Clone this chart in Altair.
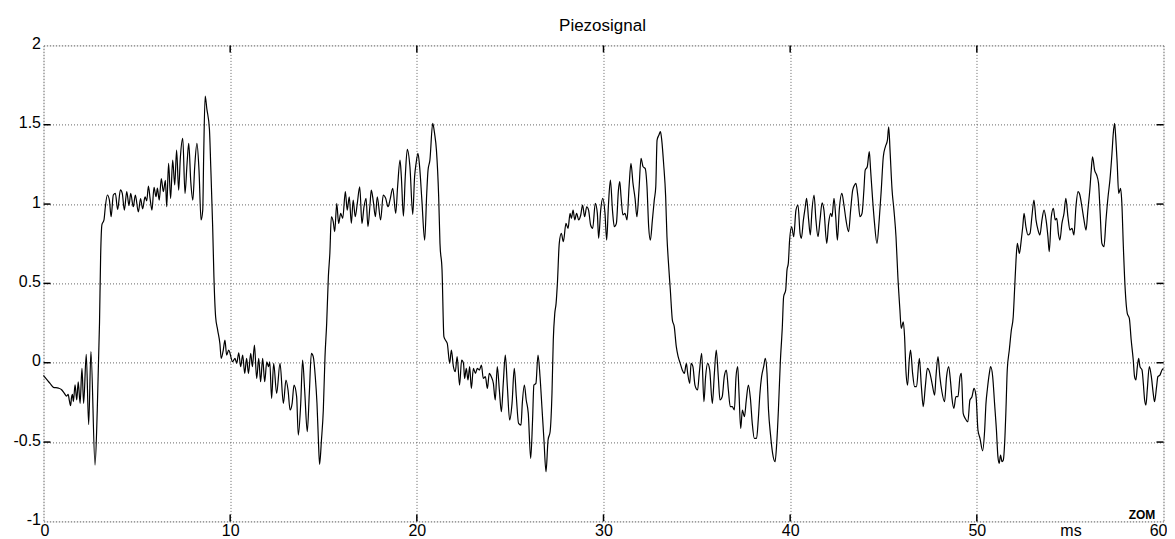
import altair as alt
import pandas as pd

# ---- data (time in ms, piezo signal) ----
t_ms = [
    0.0, 0.35, 0.53, 0.8, 0.97, 1.1, 1.24, 1.32, 1.38, 1.45, 1.5, 1.55, 1.6, 1.69, 1.78, 1.86, 1.96,
    2.06, 2.15, 2.29, 2.42, 2.54, 2.76, 2.88, 3.0, 3.06, 3.13, 3.24, 3.31, 3.42, 3.53, 3.62, 3.74,
    3.85, 3.97, 4.12, 4.22, 4.33, 4.46, 4.58, 4.67, 4.81, 4.92, 5.08, 5.2, 5.31, 5.44, 5.53, 5.62,
    5.71, 5.81, 5.92, 6.03, 6.1, 6.2, 6.31, 6.42, 6.53, 6.6, 6.7, 6.81, 6.92, 7.03, 7.13, 7.24,
    7.33, 7.46, 7.58, 7.69, 7.78, 7.89, 8.0, 8.1, 8.22, 8.33, 8.44, 8.53, 8.58, 8.66, 8.75, 8.89,
    8.96, 9.06, 9.13, 9.22, 9.33, 9.45, 9.52, 9.63, 9.72, 9.81, 9.92,
    10.13, 10.26, 10.35, 10.46, 10.56, 10.67, 10.78, 10.88, 10.98, 11.1, 11.19, 11.3, 11.42, 11.53,
    11.63, 11.74, 11.85, 11.96, 12.06, 12.12, 12.22, 12.33, 12.49, 12.67, 12.85, 12.99, 13.1, 13.21,
    13.32, 13.42, 13.56, 13.65, 13.78, 13.88, 13.99, 14.13, 14.24, 14.35, 14.45, 14.56, 14.65, 14.72,
    14.79, 14.89, 14.99, 15.08, 15.17, 15.26, 15.34, 15.42, 15.52, 15.6, 15.71, 15.81, 15.92, 16.03,
    16.17, 16.27, 16.38, 16.49, 16.59, 16.7, 16.81, 16.94, 17.06, 17.17, 17.28, 17.38, 17.49, 17.56,
    17.67, 17.78, 17.88, 18.06, 18.2, 18.33, 18.46, 18.56, 18.71, 18.87, 18.97, 19.1, 19.17, 19.28,
    19.38, 19.49, 19.63, 19.78, 19.88, 19.96,
    20.06, 20.15, 20.27, 20.42, 20.53, 20.6, 20.7, 20.85, 20.95, 21.05, 21.17, 21.24, 21.35, 21.45,
    21.53, 21.63, 21.76, 21.85, 21.96, 22.06, 22.16, 22.29, 22.4, 22.5, 22.56, 22.65, 22.74, 22.83,
    22.92, 23.03, 23.14, 23.24, 23.35, 23.46, 23.56, 23.67, 23.78, 23.88, 23.99, 24.1, 24.2, 24.31,
    24.42, 24.53, 24.63, 24.74, 24.85, 24.97, 25.1, 25.22, 25.33, 25.45, 25.58, 25.65, 25.76, 25.86,
    25.97, 26.1, 26.2, 26.27, 26.38, 26.49, 26.6, 26.7, 26.81, 26.92, 27.03, 27.14, 27.24, 27.31,
    27.39, 27.46, 27.53, 27.63, 27.74, 27.85, 27.99, 28.1, 28.21, 28.28, 28.37, 28.46, 28.56, 28.67,
    28.78, 28.88, 28.99, 29.1, 29.2, 29.31, 29.42, 29.56, 29.67, 29.74, 29.85, 29.96,
    30.08, 30.17, 30.26, 30.37, 30.48, 30.58, 30.69, 30.8, 30.87, 30.94, 31.04, 31.15, 31.26, 31.37,
    31.47, 31.58, 31.69, 31.79, 31.9, 32.01, 32.12, 32.23, 32.33, 32.42, 32.51, 32.62, 32.72, 32.8,
    32.87, 32.97, 33.05, 33.12, 33.22, 33.33, 33.4, 33.47, 33.58, 33.69, 33.79, 33.9, 34.0, 34.11,
    34.22, 34.33, 34.44, 34.51, 34.62, 34.69, 34.79, 34.9, 35.04, 35.13, 35.26, 35.38, 35.47, 35.58,
    35.69, 35.83, 35.94, 36.04, 36.15, 36.24, 36.36, 36.47, 36.58, 36.69, 36.79, 36.9, 37.01, 37.1,
    37.19, 37.26, 37.35, 37.44, 37.55, 37.65, 37.76, 37.87, 37.97, 38.08, 38.2, 38.29, 38.38, 38.47,
    38.58, 38.67, 38.76, 38.84, 38.95, 39.06, 39.19, 39.28, 39.37, 39.47, 39.58, 39.65, 39.76, 39.83,
    39.9, 39.97,
    40.08, 40.19, 40.31, 40.42, 40.53, 40.6, 40.71, 40.81, 40.88, 40.99, 41.08, 41.17, 41.28, 41.38,
    41.49, 41.6, 41.71, 41.81, 41.96, 42.06, 42.17, 42.24, 42.35, 42.44, 42.53, 42.63, 42.77, 42.88,
    42.99, 43.13, 43.24, 43.35, 43.45, 43.52, 43.63, 43.74, 43.85, 43.95, 44.02, 44.13, 44.24, 44.31,
    44.42, 44.52, 44.65, 44.77, 44.88, 44.99, 45.1, 45.21, 45.28, 45.35, 45.46, 45.56, 45.67, 45.77,
    45.88, 45.95, 46.06, 46.13, 46.2, 46.29, 46.38, 46.45, 46.56, 46.67, 46.77, 46.92, 47.03, 47.13,
    47.24, 47.35, 47.49, 47.6, 47.74, 47.81, 47.92, 48.02, 48.13, 48.27, 48.38, 48.49, 48.6, 48.67,
    48.77, 48.88, 48.99, 49.1, 49.17, 49.27, 49.38, 49.52, 49.63, 49.74, 49.85, 49.96,
    50.06, 50.17, 50.31, 50.42, 50.49, 50.56, 50.67, 50.74, 50.85, 50.95, 51.05, 51.13, 51.2, 51.27,
    51.35, 51.42, 51.49, 51.56, 51.63, 51.74, 51.85, 51.95, 52.03, 52.1, 52.17, 52.28, 52.38, 52.46,
    52.53, 52.63, 52.74, 52.85, 52.95, 53.06, 53.17, 53.28, 53.38, 53.49, 53.6, 53.71, 53.81, 53.88,
    53.99, 54.1, 54.2, 54.28, 54.38, 54.45, 54.56, 54.67, 54.77, 54.88, 54.99, 55.1, 55.2, 55.31,
    55.42, 55.52, 55.63, 55.74, 55.85, 55.95, 56.06, 56.13, 56.2, 56.31, 56.42, 56.52, 56.6, 56.7,
    56.81, 56.92, 57.03, 57.13, 57.24, 57.31, 57.38, 57.45, 57.52, 57.6, 57.7, 57.77, 57.85, 57.95,
    58.06, 58.17, 58.27, 58.38, 58.45, 58.52, 58.6, 58.67, 58.74, 58.85, 58.92, 58.99, 59.06, 59.13,
    59.24, 59.35, 59.45, 59.52, 59.63, 59.7, 59.81, 59.92, 60.0,
]

piezo = [
    -0.08, -0.13, -0.155, -0.16, -0.17, -0.19, -0.21, -0.2, -0.235, -0.27, -0.22, -0.2, -0.245, -0.14, -0.235, -0.12, -0.256,
    -0.036, -0.256, 0.053, -0.39, 0.07, -0.645, -0.3, 0.25, 0.67, 0.87, 0.9, 0.98, 1.057, 1.025, 0.92, 1.057,
    1.067, 0.966, 1.09, 1.067, 0.962, 1.078, 0.99, 1.067, 0.983, 1.057, 0.95, 1.035, 0.97, 1.045, 1.02, 1.113,
    1.035, 0.962, 1.105, 1.046, 1.1, 1.025, 1.16, 1.078, 1.15, 0.983, 1.256, 1.035, 1.277, 1.12, 1.34, 1.088,
    1.29, 1.414, 1.067, 1.256, 1.382, 1.14, 1.025, 1.235, 1.382, 1.214, 0.9, 0.962, 1.3, 1.68, 1.6, 1.47,
    1.235, 0.866, 0.54, 0.29, 0.206, 0.12, 0.027, 0.08, 0.143, 0.048, 0.08,
    0.006, 0.027, -0.004, 0.063, -0.025, 0.048, -0.067, 0.027, -0.067, 0.059, -0.025, 0.111, -0.099, 0.027,
    -0.12, 0.027, -0.12, 0.006, -0.025, 0.006, -0.225, -0.004, -0.193, -0.004, -0.256, -0.109, -0.172, -0.298,
    -0.256, -0.141, -0.214, -0.456, -0.256, 0.017, -0.172, -0.435, -0.193, 0.059, 0.038, -0.088, -0.256, -0.466,
    -0.64, -0.487, -0.298, 0.038, 0.248, 0.542, 0.689, 0.92, 0.889, 0.826, 1.004, 0.878, 0.941, 0.91,
    1.078, 0.962, 1.046, 0.878, 1.025, 0.92, 1.004, 1.109, 0.878, 0.983, 1.036, 0.857, 0.994, 1.088,
    1.015, 0.92, 1.046, 0.9, 1.057, 1.036, 0.983, 1.025, 1.099, 0.941, 1.109, 1.277, 1.172, 0.924,
    1.172, 1.345, 1.235, 0.935, 1.172, 1.256,
    1.32, 1.235, 1.025, 0.773, 1.067, 1.214, 1.277, 1.508, 1.445, 1.34, 1.046, 0.752, 0.584, 0.164,
    0.143, 0.122, -0.004, 0.08, -0.025, -0.057, 0.038, -0.141, 0.017, -0.004, -0.099, -0.036, -0.109, -0.025,
    -0.162, -0.036, -0.067, -0.036, -0.046, -0.015, -0.099, -0.088, -0.162, -0.067, -0.088, -0.13, -0.235, -0.025,
    -0.172, -0.309, -0.13, 0.048, -0.151, -0.361, -0.256, -0.036, -0.214, -0.382, -0.393, -0.256, -0.141, -0.235,
    -0.319, -0.603, -0.361, -0.141, -0.13, 0.048, -0.088, -0.277, -0.487, -0.687, -0.487, -0.435, -0.193, 0.143,
    0.311, 0.374, 0.5, 0.752, 0.815, 0.763, 0.878, 0.847, 0.941, 0.91, 0.962, 0.9, 0.941, 0.9,
    0.931, 0.994, 0.92, 0.983, 0.962, 0.868, 0.847, 1.004, 0.941, 0.784, 0.962, 1.036,
    0.941, 0.773, 0.983, 1.151, 0.962, 0.857, 0.878, 1.088, 1.141, 1.046, 0.931, 0.941, 0.9, 1.109,
    1.256, 1.13, 1.036, 0.92, 1.088, 1.288, 1.235, 1.225, 1.109, 0.857, 0.773, 0.9, 1.025, 1.109,
    1.403, 1.435, 1.456, 1.403, 1.256, 1.046, 0.794, 0.647, 0.458, 0.269, 0.227, 0.101, 0.038, -0.004,
    -0.046, -0.067, -0.004, -0.067, -0.13, -0.004, -0.025, -0.141, -0.172, -0.067, 0.059, -0.246, -0.088, -0.004,
    -0.046, -0.256, -0.067, 0.08, -0.088, -0.235, -0.214, -0.088, -0.046, -0.172, -0.277, -0.277, -0.298, -0.088,
    -0.025, -0.193, -0.414, -0.298, -0.34, -0.235, -0.141, -0.225, -0.382, -0.477, -0.477, -0.361, -0.193, -0.088,
    -0.025, 0.027, -0.067, -0.298, -0.456, -0.571, -0.624, -0.508, -0.298, -0.004, 0.227, 0.416, 0.458, 0.584,
    0.626, 0.773,
    0.857, 0.794, 0.962, 0.994, 0.815, 0.784, 0.9, 0.983, 1.036, 0.9, 0.805, 0.962, 1.057, 0.9,
    0.794, 0.9, 1.008, 0.962, 0.752, 0.878, 0.941, 0.92, 1.036, 0.92, 0.773, 0.962, 1.067, 0.994,
    0.9, 0.826, 0.962, 1.088, 1.12, 1.13, 1.046, 0.92, 0.941, 1.088, 1.214, 1.235, 1.33, 1.214,
    1.025, 0.878, 0.752, 0.9, 1.088, 1.298, 1.361, 1.403, 1.487, 1.34, 1.088, 0.962, 0.794, 0.542,
    0.332, 0.216, 0.258, 0.164, -0.046, -0.141, 0.017, 0.08, -0.067, -0.151, -0.151, 0.027, -0.151, -0.277,
    -0.151, -0.036, -0.067, -0.13, -0.204, -0.088, 0.038, -0.088, -0.183, -0.246, -0.088, -0.025, -0.13, -0.225,
    -0.288, -0.214, -0.214, -0.088, -0.067, -0.319, -0.351, -0.372, -0.235, -0.214, -0.162, -0.214,
    -0.424, -0.477, -0.555, -0.424, -0.256, -0.172, -0.067, -0.025, -0.088, -0.256, -0.424, -0.592, -0.634, -0.582,
    -0.624, -0.613, -0.508, -0.298, -0.046, 0.08, 0.206, 0.29, 0.479, 0.647, 0.752, 0.689, 0.773, 0.857,
    0.941, 0.857, 0.805, 0.815, 0.92, 1.025, 0.9, 0.836, 0.805, 0.9, 0.962, 0.9, 0.794, 0.7,
    0.92, 0.973, 0.9, 0.91, 0.805, 0.773, 0.878, 0.941, 1.036, 0.92, 0.836, 0.847, 0.805, 0.983,
    1.078, 1.057, 0.983, 0.9, 0.836, 0.962, 1.099, 1.214, 1.298, 1.214, 1.183, 1.13, 0.962, 0.752,
    0.731, 0.9, 1.046, 1.151, 1.319, 1.445, 1.508, 1.403, 1.256, 1.067, 1.099, 1.004, 0.731, 0.458,
    0.311, 0.279, 0.143, 0.017, -0.088, -0.109, -0.025, 0.027, -0.025, -0.046, -0.13, -0.235, -0.267, -0.172,
    -0.025, -0.088, -0.193, -0.246, -0.151, -0.088, -0.078, -0.046, -0.036,
]

x_ticks = [0, 10, 20, 30, 40, 50, 60]
y_ticks = [-1, -0.5, 0, 0.5, 1, 1.5, 2]
title_text = "Piezosignal"
x_unit = "ms"
stamp = "ZOM"

W, H = 1120, 476
FONT = "Liberation Sans"
LBL = 16

df = pd.DataFrame({"t": t_ms, "v": piezo})

x_scale = alt.Scale(domain=[0, 60], nice=False, zero=False)
y_scale = alt.Scale(domain=[-1, 2], nice=False, zero=False)

x_axis = alt.Axis(values=x_ticks, title=None, grid=True, gridDash=[1, 2], gridColor="#666666",
                  gridWidth=1, domain=False, ticks=False, tickSize=0, labelFont=FONT, labelFontSize=LBL,
                  labelColor="black", labelPadding=1.5, labelFlush=True, labelFlushOffset=3.5,
                  labelAngle=0, labelExpr="'' + datum.value")
y_axis = alt.Axis(values=y_ticks, title=None, grid=True, gridDash=[1, 2], gridColor="#666666",
                  gridWidth=1, domain=False, ticks=False, tickSize=0, labelFont=FONT, labelFontSize=LBL,
                  labelColor="black", labelPadding=3, labelFlush=False, labelOffset=-2,
                  labelExpr="'' + datum.value")

line = alt.Chart(df).mark_line(color="black", strokeWidth=1.2, interpolate="monotone").encode(
    x=alt.X("t:Q", scale=x_scale, axis=x_axis),
    y=alt.Y("v:Q", scale=y_scale, axis=y_axis),
)

# inward tick marks (MATLAB style)
ytk = pd.DataFrame({"y": y_ticks[1:-1]})
xtk = pd.DataFrame({"x": x_ticks[1:-1]})
ytick_l = alt.Chart(ytk).mark_rule(color="black", strokeWidth=1.5).encode(
    y=alt.Y("y:Q", scale=y_scale), x=alt.value(0), x2=alt.value(7))
ytick_r = alt.Chart(ytk).mark_rule(color="black", strokeWidth=1.5).encode(
    y=alt.Y("y:Q", scale=y_scale), x=alt.value(W - 7), x2=alt.value(W))
xtick_b = alt.Chart(xtk).mark_rule(color="black", strokeWidth=1.5).encode(
    x=alt.X("x:Q", scale=x_scale), y=alt.value(H - 7), y2=alt.value(H))
xtick_t = alt.Chart(xtk).mark_rule(color="black", strokeWidth=1.5).encode(
    x=alt.X("x:Q", scale=x_scale), y=alt.value(0), y2=alt.value(7))

one = pd.DataFrame({"k": [0]})
title = alt.Chart(one).mark_text(text=title_text, font=FONT, fontSize=17, align="center",
                                 baseline="alphabetic", color="black").encode(
    x=alt.value(W / 2 - 1), y=alt.value(-14))
unit = alt.Chart(one).mark_text(text=x_unit, font=FONT, fontSize=LBL, align="center",
                                baseline="top", color="black").encode(
    x=alt.value(1027.5), y=alt.value(H + 1.5))
zom = alt.Chart(one).mark_text(text=stamp, font=FONT, fontSize=12, fontWeight="bold", align="center",
                               baseline="alphabetic", color="black").encode(
    x=alt.value(1098.5), y=alt.value(H - 2))

chart = alt.layer(line, ytick_l, ytick_r, xtick_b, xtick_t, title, unit, zom).properties(
    width=W, height=H,
    padding={"left": 35.5, "top": 37.4, "right": 3.5, "bottom": 18},
    autosize=alt.AutoSizeParams(type="none"),
).configure_view(stroke="black", strokeWidth=1.5).configure(background="white")

chart.save("out.html", embed_options={"renderer": "svg", "actions": False})
